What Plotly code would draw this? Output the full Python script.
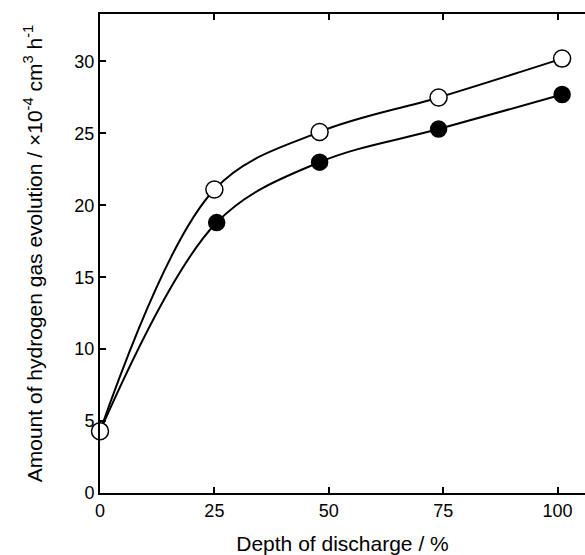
import plotly.graph_objects as go

depth_open = [0, 25, 48, 74, 101]
gas_open = [4.3, 21.1, 25.1, 27.5, 30.2]
depth_filled = [0, 25.5, 48, 74, 101]
gas_filled = [4.3, 18.8, 23.0, 25.3, 27.7]

x_ticks = [0, 25, 50, 75, 100]
y_ticks = [0, 5, 10, 15, 20, 25, 30]

fig = go.Figure()
fig.add_trace(go.Scatter(
    x=depth_filled, y=gas_filled, mode="lines",
    line=dict(color="black", width=2, shape="spline", smoothing=1.0),
    showlegend=False, hoverinfo="skip"))
fig.add_trace(go.Scatter(
    x=depth_open, y=gas_open, mode="lines",
    line=dict(color="black", width=2, shape="spline", smoothing=1.0),
    showlegend=False, hoverinfo="skip"))
fig.add_trace(go.Scatter(
    x=depth_filled[1:], y=gas_filled[1:], mode="markers",
    marker=dict(symbol="circle", size=16, color="black", line=dict(color="black", width=1.5)),
    showlegend=False, cliponaxis=False))
fig.add_trace(go.Scatter(
    x=depth_open, y=gas_open, mode="markers",
    marker=dict(symbol="circle", size=17, color="white", line=dict(color="black", width=1.5)),
    showlegend=False, cliponaxis=False))

tick_font = dict(family="Liberation Sans, Arial, sans-serif", size=18, color="black")
title_font = dict(family="Liberation Sans, Arial, sans-serif", size=21, color="black")

fig.update_layout(
    width=585, height=555,
    margin=dict(l=100, r=0, t=14, b=62),
    paper_bgcolor="white", plot_bgcolor="white",
    font=tick_font,
    xaxis=dict(
        range=[0, 106], tickvals=x_ticks, ticks="inside", ticklen=6,
        tickcolor="black", tickwidth=1.5,
        showline=True, linecolor="black", linewidth=2, mirror="ticks",
        showgrid=False, zeroline=False, automargin=False,
        title=dict(text="Depth of discharge / %", standoff=17, font=title_font),
        tickfont=tick_font,
    ),
    yaxis=dict(
        range=[0, 33.3], tickvals=y_ticks, ticks="inside", ticklen=6,
        tickcolor="black", tickwidth=1.5,
        showline=True, linecolor="black", linewidth=2,
        showgrid=False, zeroline=False, automargin=False,
        title=dict(text="Amount of hydrogen gas evolution / \u00d710<sup>-4</sup> cm<sup>3</sup> h<sup>-1</sup>",
                   standoff=26, font=title_font),
        tickfont=tick_font,
    ),
)

fig.write_html("out.html",
               config={"displayModeBar": False},
               post_script="document.body.style.margin='0';document.body.style.overflow='hidden';")
